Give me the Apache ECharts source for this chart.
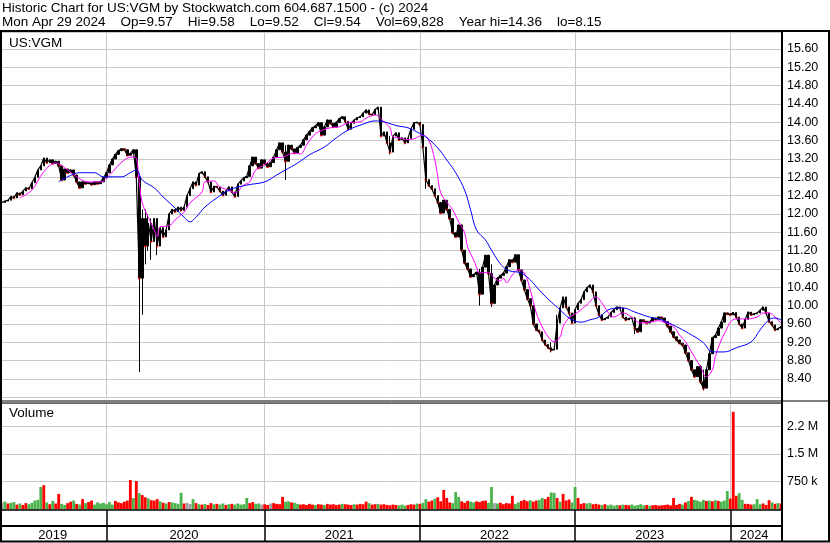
<!DOCTYPE html>
<html>
<head>
<meta charset="utf-8">
<script src="https://cdn.jsdelivr.net/npm/echarts@6/dist/echarts.min.js"></script>
<style>
  html, body { margin: 0; padding: 0; background: #fff; }
  #chart { width: 830px; height: 543px; }
</style>
</head>
<body>
<div id="chart"></div>
<script>
// weekly closes, one per week starting Thu 2019-05-02
const closes = [
  12.25, 12.28, 12.30, 12.38, 12.35, 12.46, 12.42, 12.50, 12.57, 12.55,
  12.68, 12.80, 12.96, 13.05, 13.22, 13.12, 13.18, 13.10, 13.15, 13.05,
  12.74, 12.98, 12.90, 12.96, 12.85, 12.70, 12.57, 12.70, 12.66, 12.68,
  12.64, 12.70, 12.66, 12.70, 12.79, 12.90, 13.07, 13.20, 13.30, 13.38,
  13.42, 13.40, 13.28, 13.32, 13.40, 12.81, 10.60, 11.90, 11.30, 11.80,
  11.40, 11.90, 11.30, 11.70, 11.50, 11.65, 12.00, 12.10, 12.05, 12.15,
  12.08, 12.15, 12.40, 12.55, 12.70, 12.63, 12.88, 12.92, 12.81, 12.70,
  12.48, 12.60, 12.59, 12.50, 12.41, 12.50, 12.59, 12.48, 12.38, 12.65,
  12.72, 12.79, 12.82, 13.05, 13.24, 13.10, 13.00, 13.18, 13.10, 13.03,
  13.12, 13.24, 13.40, 13.55, 13.35, 13.15, 13.50, 13.42, 13.33, 13.45,
  13.50, 13.62, 13.72, 13.80, 13.88, 13.92, 13.99, 13.72, 13.90, 14.05,
  13.98, 13.90, 14.00, 14.08, 14.12, 14.02, 13.85, 13.98, 14.05, 14.10,
  14.12, 14.20, 14.27, 14.18, 14.16, 14.28, 14.33, 13.70, 13.79, 13.55,
  13.35, 13.70, 13.77, 13.62, 13.66, 13.55, 13.65, 13.85, 13.99, 14.00,
  13.95, 13.46, 12.75, 12.62, 12.55, 12.40, 12.25, 12.02, 12.30, 12.10,
  11.90, 11.59, 11.50, 11.76, 11.21, 10.93, 10.80, 10.63, 10.68, 10.73,
  10.25, 10.84, 11.10, 10.70, 10.05, 10.45, 10.60, 10.66, 10.71, 10.85,
  11.00, 10.95, 11.11, 10.78, 10.56, 10.35, 10.15, 10.00, 9.60, 9.47,
  9.43, 9.25, 9.15, 9.08, 9.03, 9.05, 9.62, 9.95, 10.19, 9.97,
  9.84, 9.62, 9.91, 10.05, 10.13, 10.30, 10.39, 10.45, 10.30, 10.00,
  9.80, 9.69, 9.72, 9.75, 9.85, 9.91, 9.97, 9.95, 9.75, 9.69,
  9.72, 9.73, 9.50, 9.43, 9.69, 9.66, 9.62, 9.65, 9.73, 9.70,
  9.75, 9.73, 9.65, 9.55, 9.43, 9.32, 9.25, 9.18, 9.14, 8.97,
  8.80, 8.60, 8.45, 8.67, 8.34, 8.20, 8.60, 8.95, 9.30, 9.35,
  9.51, 9.64, 9.84, 9.82, 9.80, 9.85, 9.75, 9.60, 9.51, 9.70,
  9.86, 9.80, 9.82, 9.84, 9.90, 9.97, 9.84, 9.65, 9.58, 9.47,
  9.50, 9.54
];

// long intra-week ranges: [week, low, high]
const wicks = [
  [45, 12.5, 13.4], [46, 8.55, 12.1], [47, 9.8, 12.1], [48, 10.9, 12.1],
  [49, 11.2, 12.0], [50, 11.0, 11.9], [52, 11.1, 11.8], [95, 12.74, 13.5],
  [130, 13.3, 13.7], [142, 12.55, 13.3], [160, 10.0, 10.8], [164, 9.97, 10.9],
  [184, 8.98, 9.2], [186, 9.2, 9.8], [212, 9.38, 9.75], [234, 8.3, 8.7],
  [235, 8.15, 8.6]
];

// moving averages: [week, value]
const maShort = [
  [6, 12.35], [10, 12.52], [14, 12.92], [18, 13.11], [22, 12.96], [25, 12.81],
  [29, 12.70], [33, 12.70], [36, 12.85], [41, 13.18], [44, 13.24], [45, 13.22],
  [46, 12.68], [47, 12.24], [49, 11.93], [51, 11.65], [52, 11.50], [53, 11.72],
  [56, 11.74], [58, 11.87], [61, 12.04], [63, 12.24], [67, 12.48], [68, 12.70],
  [71, 12.72], [73, 12.59], [76, 12.52], [78, 12.46], [81, 12.63], [83, 12.70],
  [85, 12.96], [88, 13.07], [91, 13.22], [94, 13.24], [98, 13.33], [100, 13.31],
  [102, 13.50], [104, 13.68], [106, 13.79], [110, 13.88], [113, 13.90], [116, 13.99],
  [120, 14.01], [122, 14.09], [125, 14.16], [126, 14.14], [128, 14.01], [130, 13.88],
  [131, 13.68], [133, 13.66], [136, 13.62], [138, 13.64], [141, 13.72], [143, 13.61],
  [145, 13.18], [146, 12.81], [147, 12.46], [149, 12.26], [151, 12.09], [153, 11.83],
  [155, 11.59], [156, 11.28], [158, 11.00], [159, 10.84], [160, 10.71], [163, 10.73],
  [165, 10.60], [167, 10.54], [168, 10.60], [169, 10.50], [171, 10.67], [173, 10.78],
  [175, 10.71], [177, 10.34], [179, 9.84], [181, 9.54], [183, 9.32], [185, 9.21],
  [187, 9.32], [188, 9.54], [190, 9.73], [193, 9.86], [196, 10.02], [199, 10.19],
  [201, 10.06], [203, 9.86], [205, 9.75], [208, 9.84], [211, 9.75], [214, 9.62],
  [217, 9.64], [220, 9.67], [222, 9.64], [225, 9.54], [227, 9.36], [229, 9.21],
  [231, 8.99], [234, 8.67], [236, 8.45], [238, 8.60], [239, 8.89], [241, 9.25],
  [243, 9.51], [244, 9.64], [246, 9.71], [249, 9.71], [253, 9.75], [255, 9.84],
  [257, 9.84], [259, 9.75], [261, 9.62]
];
const maLong = [
  [19, 12.70], [22, 12.81], [26, 12.90], [31, 12.90], [34, 12.81], [40, 12.81],
  [43, 12.90], [45, 12.96], [47, 12.74], [51, 12.57], [54, 12.37], [58, 12.13],
  [61, 11.93], [63, 11.83], [65, 11.93], [68, 12.15], [72, 12.35], [76, 12.52],
  [82, 12.63], [88, 12.70], [92, 12.85], [95, 12.96], [99, 13.11], [103, 13.29],
  [108, 13.46], [112, 13.66], [116, 13.83], [121, 13.96], [125, 14.03], [128, 14.01],
  [132, 13.93], [136, 13.88], [139, 13.79], [142, 13.68], [146, 13.44], [149, 13.18],
  [152, 12.90], [155, 12.52], [157, 12.09], [159, 11.65], [162, 11.43], [164, 11.21],
  [166, 11.00], [168, 10.84], [170, 10.76], [174, 10.71], [177, 10.56], [180, 10.34],
  [184, 10.08], [187, 9.91], [190, 9.73], [194, 9.64], [197, 9.69], [200, 9.75],
  [204, 9.93], [208, 9.95], [212, 9.86], [217, 9.75], [221, 9.69], [226, 9.54],
  [230, 9.40], [235, 9.19], [238, 8.99], [242, 8.99], [246, 9.08], [251, 9.21],
  [254, 9.47], [257, 9.69], [259, 9.73], [261, 9.69]
];

// weekly volume, thousands of shares
const volumes = [
  180, 200, 150, 170, 190, 120, 150, 110, 160, 130,
  170, 230, 250, 600, 650, 180, 130, 220, 150, 410,
  140, 110, 160, 200, 230, 140, 120, 270, 160, 190,
  230, 120, 180, 150, 170, 130, 190, 120, 220, 180,
  160, 200, 230, 790, 300, 760, 430, 380, 320, 290,
  240, 230, 270, 210, 170, 150, 190, 180, 160, 140,
  440, 150, 170, 140, 270, 160, 130, 120, 140, 110,
  160, 130, 140, 120, 150, 110, 130, 140, 120, 150,
  120, 130, 300, 160, 190, 140, 150, 120, 130, 110,
  150, 160, 140, 130, 330, 200, 210, 180, 170, 140,
  120, 130, 110, 140, 120, 110, 130, 120, 110, 140,
  120, 130, 110, 120, 140, 130, 120, 110, 130, 120,
  140, 130, 200, 160, 120, 130, 140, 120, 130, 110,
  100, 120, 110, 100, 120, 90, 110, 130, 120, 150,
  140, 170, 270, 200, 230, 280, 320, 210, 520, 300,
  180, 160, 460, 330, 210, 170, 220, 200, 180, 210,
  190, 220, 230, 170, 600, 160, 150, 170, 130, 160,
  150, 360, 140, 180, 220, 250, 210, 240, 200, 230,
  250, 300, 270, 330, 450, 440, 300, 200, 410, 230,
  260, 180, 600, 300, 140, 160, 150, 170, 130, 140,
  120, 110, 130, 100, 120, 90, 110, 100, 120, 110,
  100, 120, 90, 110, 130, 100, 110, 90, 100, 110,
  90, 100, 110, 120, 100, 300, 110, 140, 120, 180,
  220, 330, 250, 230, 200, 250, 220, 230, 210, 240,
  220, 200, 230, 490, 280, 2650, 360, 430, 250, 140,
  140, 120, 130, 270, 130, 150, 110, 240, 180, 140,
  160, 150
];
// bar colour per week as drawn: g = up, r = down, n = unchanged
const volColors =
  'ngrggrgrrg' + 'ggggrgrgrr' + 'ggrrgrgrgr' + 'rgggggggrr' + 'rrrrgrgrrg' +
  'rrrgrgrggg' + 'grnngrgrgr' + 'rgrggrgrgg' + 'gggrrggnrr' + 'nrrrrggrgg' +
  'rrrrrgrrgr' + 'rrrrgrrrgr' + 'rrrgrrgrrr' + 'rrrgggrrrg' + 'rggrrgrrrr' +
  'rgggrrrggr' + 'rrrggngrrr' + 'rrggrrrgrr' + 'ggrrggrgrr' + 'rggrrrggrr' +
  'rgrggggrgr' + 'rgggggrgrr' + 'rrrrrrrrgr' + 'grggggrgrg' + 'rgggrrrggr' +
  'rrgggrrrgr' + 'gr';

const header1 = 'Historic Chart for US:VGM by Stockwatch.com 604.687.1500 - (c) 2024';
const header2 = 'Mon Apr 29 2024    Op=9.57    Hi=9.58    Lo=9.52    Cl=9.54    Vol=69,828    Year hi=14.36    lo=8.15';
const volLabels = { 750000: '750 k', 1500000: '1.5 M', 2250000: '2.2 M' };

const FONT = '"Liberation Sans", Arial, sans-serif';
const GRID = '#c8c8c8';
const BAR_COLORS = { g: '#4db34d', r: '#ff0000', n: '#a0a0a0' };

const weeks = closes.map((_, i) => new Date(Date.UTC(2019, 4, 2 + 7 * i)).toISOString().slice(0, 10));
const yearOf = i => weeks[i].slice(0, 4);
const isYearStart = i => i > 0 && yearOf(i) !== yearOf(i - 1);

// middle week of each year block, for the year labels
const yearMid = new Set();
let first = 0;
for (let i = 1; i <= weeks.length; i++) {
  if (i === weeks.length || isYearStart(i)) {
    yearMid.add(Math.floor((first + i - 1) / 2));
    first = i;
  }
}

const wickMap = {};
wicks.forEach(([i, lo, hi]) => { wickMap[i] = [lo, hi]; });
const candles = closes.map((c, i) => {
  const o = i ? closes[i - 1] : c;
  const w = wickMap[i] || [c, c];
  return [o, c, Math.min(o, c, w[0]), Math.max(o, c, w[1])];
});
const downDots = closes.map((c, i) => (i && c < closes[i - 1] ? [i, c] : null)).filter(Boolean);
const volData = volumes.map((v, i) => ({
  value: v * 1000, itemStyle: { color: BAR_COLORS[volColors[i]] }
}));

const chart = echarts.init(document.getElementById('chart'), null, { renderer: 'canvas' });

const line = (x1, y1, x2, y2, w) => ({
  type: 'line', silent: true, z: 100,
  shape: { x1, y1, x2, y2 },
  style: { stroke: '#000', lineWidth: w }
});
const text = (x, y, t) => ({
  type: 'text', left: x, top: y, silent: true, z: 100,
  style: { text: t, font: '13.5px ' + FONT, fill: '#000' }
});

const catAxis = (gridIndex) => ({
  type: 'category', gridIndex, data: weeks, boundaryGap: false,
  axisLine: { show: false }, axisTick: { show: false }, axisLabel: { show: false },
  splitLine: { show: true, interval: (i) => isYearStart(i), lineStyle: { color: GRID, width: 1 } }
});

chart.setOption({
  animation: false,
  backgroundColor: '#fff',
  grid: [
    { left: 2, right: 49, top: 32, height: 365.3 },
    { left: 2, right: 49, top: 403, height: 106 },
    { left: 2, right: 49, top: 510, height: 16 }
  ],
  xAxis: [
    catAxis(0),
    catAxis(1),
    {
      type: 'category', gridIndex: 2, data: weeks, boundaryGap: false,
      axisLine: { show: true, lineStyle: { color: '#000', width: 2 } },
      axisTick: { show: true, interval: (i) => isYearStart(i), length: 15, lineStyle: { color: '#000', width: 1.5 } },
      axisLabel: {
        interval: (i) => yearMid.has(i), formatter: (v) => v.slice(0, 4),
        margin: 3, fontSize: 13, fontFamily: FONT, color: '#000'
      },
      splitLine: { show: true, interval: (i) => isYearStart(i), lineStyle: { color: '#000', width: 1.5 } }
    }
  ],
  yAxis: [
    {
      type: 'value', gridIndex: 0, position: 'right',
      min: 8, max: 15.97, interval: 0.4,
      axisLine: { show: false }, axisTick: { show: false },
      axisLabel: {
        margin: 6, fontSize: 12.5, fontFamily: FONT, color: '#000',
        formatter: (v) => (v > 8.2 && v < 15.7 ? v.toFixed(2) : '')
      },
      splitLine: { lineStyle: { color: GRID, width: 1 } }
    },
    {
      type: 'value', gridIndex: 1, position: 'right',
      min: 0, max: 2890000, interval: 750000,
      axisLine: { show: false }, axisTick: { show: false },
      axisLabel: {
        margin: 6, fontSize: 12.5, fontFamily: FONT, color: '#000',
        formatter: (v) => volLabels[v] || ''
      },
      splitLine: { lineStyle: { color: GRID, width: 1 } }
    },
    { type: 'value', gridIndex: 2, show: false, splitLine: { show: false } }
  ],
  series: [
    {
      type: 'candlestick', xAxisIndex: 0, yAxisIndex: 0, data: candles,
      barWidth: 2,
      itemStyle: { color: '#000', color0: '#000', borderColor: '#000', borderColor0: '#000', borderWidth: 1 }
    },
    {
      type: 'line', xAxisIndex: 0, yAxisIndex: 0, data: closes,
      symbol: 'none', lineStyle: { color: '#000', width: 1.2 }
    },
    {
      type: 'scatter', xAxisIndex: 0, yAxisIndex: 0, data: downDots,
      symbol: 'rect', symbolSize: 2.5, itemStyle: { color: '#ff0000' }
    },
    {
      type: 'line', xAxisIndex: 0, yAxisIndex: 0, data: maShort, smooth: 0.4,
      symbol: 'none', lineStyle: { color: '#ff00ff', width: 1 }
    },
    {
      type: 'line', xAxisIndex: 0, yAxisIndex: 0, data: maLong, smooth: 0.4,
      symbol: 'none', lineStyle: { color: '#0000ff', width: 1 }
    },
    {
      type: 'bar', xAxisIndex: 1, yAxisIndex: 1, data: volData,
      barCategoryGap: '5%'
    }
  ],
  graphic: [
    text(2, 1.5, header1),
    text(2, 15.5, header2),
    text(9, 36, 'US:VGM'),
    text(9, 406, 'Volume'),
    line(0, 31, 830, 31, 2),
    line(1, 31, 1, 542, 2),
    line(782, 31, 782, 542, 2),
    line(829, 31, 829, 542, 2),
    line(0, 401, 830, 401, 1),
    line(2, 403, 781, 403, 1),
    line(2, 510, 781, 510, 1.5),
    line(0, 541.5, 830, 541.5, 2)
  ]
});
</script>
</body>
</html>
